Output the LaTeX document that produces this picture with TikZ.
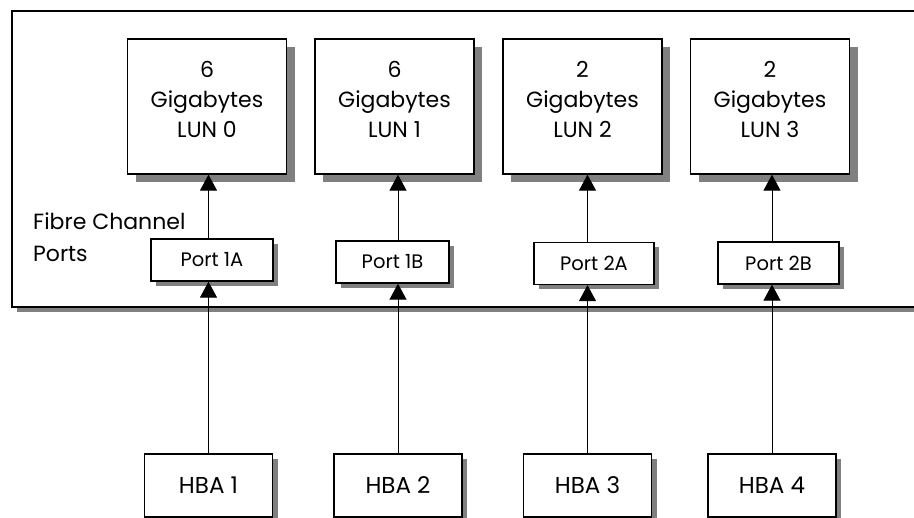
\documentclass[tikz,border=0pt]{standalone}
\usepackage{fontspec}
\setmainfont{Poppins}
\usepackage{tikz}
\usetikzlibrary{calc}
\usetikzlibrary{positioning}
\usetikzlibrary{shadows}
\usetikzlibrary{arrows.meta}
\tikzstyle{arraynode} = [draw, line width=1.5pt, fill=white, minimum width=923, minimum height=296, drop shadow={shadow xshift=5pt, shadow yshift=-5pt, fill=black!50, opacity=1}]
\tikzstyle{lunnode} = [draw, line width=1.3pt, fill=white, minimum width=159, minimum height=135, drop shadow={shadow xshift=8pt, shadow yshift=-8pt, fill=black!50, opacity=1}]
\tikzstyle{luntext} = [align=center, font=\fontsize{22}{30}\selectfont]
\tikzstyle{portnode} = [draw, line width=1.3pt, fill=white, minimum height=42, font=\fontsize{19.5}{22}\selectfont, drop shadow={shadow xshift=5pt, shadow yshift=-5pt, fill=black!50, opacity=1}]
\tikzstyle{hbanode} = [draw, line width=1.3pt, fill=white, minimum width=128, minimum height=63, font=\fontsize{23}{28}\selectfont, drop shadow={shadow xshift=5pt, shadow yshift=-5pt, fill=black!50, opacity=1}]
\tikzstyle{link} = [line width=1pt, -{Triangle[width=17pt,length=16pt]}]

\begin{document}
\begin{tikzpicture}[x=1pt, y=-1pt]
    \useasboundingbox[fill=white] (0,0) rectangle (914,518);

    \node[arraynode] (array) at (473.5,159) {};
    \node[align=left, anchor=north west, font=\fontsize{22}{32}\selectfont, inner sep=0] (fcports) at (33,213) {Fibre Channel\\Ports};

    \node[lunnode] (lun0) at (207,106.5) {};
    \node[lunnode] (lun1) at ($(lun0)+(187.5,0)$) {};
    \node[lunnode] (lun2) at ($(lun1)+(188,0)$) {};
    \node[lunnode] (lun3) at ($(lun2)+(187.5,0)$) {};
    \node[luntext] (lun0_txt) at ($(lun0)+(0,-7)$) {6\\Gigabytes\\LUN 0};
    \node[luntext] (lun1_txt) at ($(lun1)+(0,-7)$) {6\\Gigabytes\\LUN 1};
    \node[luntext] (lun2_txt) at ($(lun2)+(0,-7)$) {2\\Gigabytes\\LUN 2};
    \node[luntext] (lun3_txt) at ($(lun3)+(0,-7)$) {2\\Gigabytes\\LUN 3};

    \node[portnode, minimum width=122] (port1a) at (212,260) {Port 1A};
    \node[portnode, minimum width=113] (port1b) at (392.5,262) {Port 1B};
    \node[portnode, minimum width=120] (port2a) at (594,263.5) {Port 2A};
    \node[portnode, minimum width=121] (port2b) at (778.5,263) {Port 2B};

    \node[hbanode] (hba1) at (208.5,485.5) {HBA 1};
    \node[hbanode] (hba2) at (398,485.5) {HBA 2};
    \node[hbanode] (hba3) at (587.5,485.5) {HBA 3};
    \node[hbanode] (hba4) at (772,485.5) {HBA 4};

    \draw[link] (hba1.north) -- (hba1.north |- port1a.south);
    \draw[link] (hba2.north) -- (hba2.north |- port1b.south);
    \draw[link] (hba3.north) -- (hba3.north |- port2a.south);
    \draw[link] (hba4.north) -- (hba4.north |- port2b.south);

    \draw[link] (hba1.north |- port1a.north) -- (hba1.north |- lun0.south);
    \draw[link] (hba2.north |- port1b.north) -- (hba2.north |- lun1.south);
    \draw[link] (hba3.north |- port2a.north) -- (hba3.north |- lun2.south);
    \draw[link] (hba4.north |- port2b.north) -- (hba4.north |- lun3.south);
\end{tikzpicture}
\end{document}
